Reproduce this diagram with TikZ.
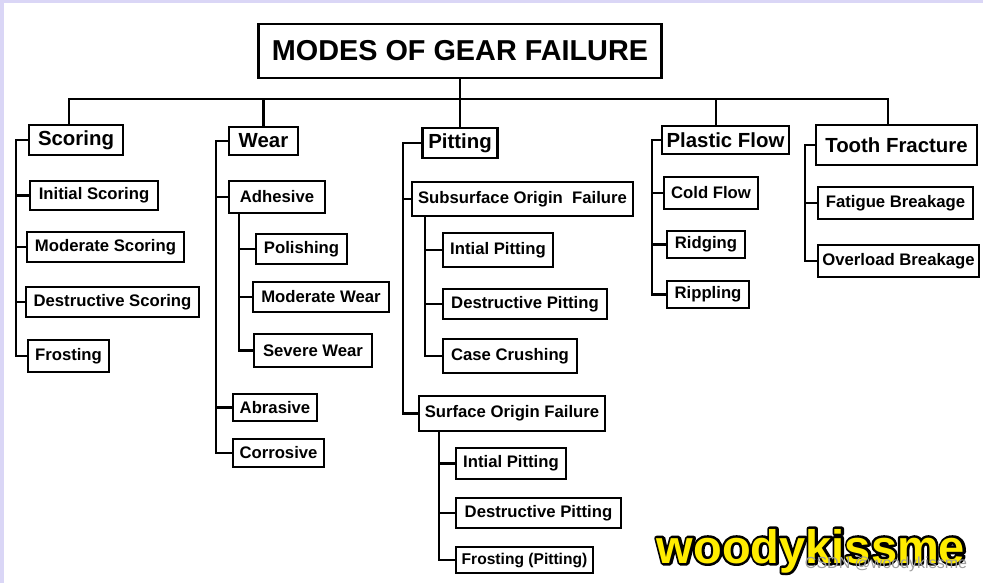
\documentclass[tikz,border=0pt]{standalone}
\usepackage{fontspec}
\setmainfont{Liberation Sans}
\definecolor{frame}{RGB}{218,214,246}
\definecolor{wmyellow}{RGB}{255,236,0}
\newcommand{\outlinedtext}[1]{\special{pdf:code q 1 Tr 5 w 1 j 0 G}#1\special{pdf:code Q}}
\begin{document}
\begin{tikzpicture}[x=1pt,y=-1pt,
  box/.style={draw, line width=2.1pt, inner sep=0pt, font=\fontsize{16.7}{18}\selectfont\bfseries},
  head/.style={box, font=\fontsize{20.4}{22}\selectfont\bfseries},
  conn/.style={line width=2.1pt},
  wmk/.style={inner sep=0pt, anchor=base, font=\fontsize{47}{50}\selectfont\bfseries}]
\useasboundingbox[fill=white] (0,0) rectangle (983,583);
\fill[frame] (0,0) rectangle (983,3);
\fill[frame] (0,0) rectangle (4,583);

% title
\node[box, font=\fontsize{28.8}{30}\selectfont\bfseries, minimum width=403pt, minimum height=54pt] (title) at (460,51) {MODES OF GEAR FAILURE};

% level 1
\node[head, minimum width=94pt, minimum height=30pt] (scor) at (76,140) {Scoring};
\node[head, minimum width=69pt, minimum height=28pt] (wear) at (263.5,141) {Wear};
\node[head, minimum width=75pt, minimum height=30pt] (pit) at (460,143) {Pitting};
\node[head, minimum width=127pt, minimum height=28pt] (pf) at (725.5,140) {Plastic Flow};
\node[head, minimum width=161pt, minimum height=40pt] (tf) at (896.5,145) {Tooth Fracture};

% bus
\coordinate (bus) at (0,99);
\draw[conn] (title.south) -- (pit.north);
\draw[conn] ([xshift=-7pt]scor.north) -- ([xshift=-7pt]scor.north |- bus) -- ([xshift=-8.5pt]tf.north |- bus) -- ([xshift=-8.5pt]tf.north);
\draw[conn] (wear.north) -- (wear.north |- bus);
\draw[conn] ([xshift=-9.5pt]pf.north) -- ([xshift=-9.5pt]pf.north |- bus);

% Scoring children
\node[box, minimum width=128pt, minimum height=29pt] (iscor) at (94,195.5) {Initial Scoring};
\node[box, minimum width=157pt, minimum height=30pt] (mscor) at (105.5,247) {Moderate Scoring};
\node[box, minimum width=173pt, minimum height=30pt] (dscor) at (112.5,302) {Destructive Scoring};
\node[box, minimum width=81pt, minimum height=32pt] (frost) at (68.5,356) {Frosting};
\coordinate (tS) at (16,0);
\draw[conn] (scor.west) -- (scor.west -| tS) -- (tS |- frost.west) -- (frost.west);
\foreach \n in {iscor,mscor,dscor} \draw[conn] (tS |- \n.west) -- (\n.west);

% Wear children
\node[box, minimum width=96pt, minimum height=32pt] (adh) at (277,197) {Adhesive};
\node[box, minimum width=91pt, minimum height=30pt] (pol) at (301.5,249) {Polishing};
\node[box, minimum width=136pt, minimum height=30pt] (modw) at (321,297) {Moderate Wear};
\node[box, minimum width=118pt, minimum height=33pt] (sevw) at (313,350.5) {Severe Wear};
\node[box, minimum width=84pt, minimum height=27pt] (abr) at (275,407.5) {Abrasive};
\node[box, minimum width=91pt, minimum height=28pt] (cor) at (278.5,453) {Corrosive};
\coordinate (tW) at (216,0);
\draw[conn] (wear.west) -- (wear.west -| tW) -- (tW |- cor.west) -- (cor.west);
\foreach \n in {adh,abr} \draw[conn] (tW |- \n.west) -- (\n.west);
\coordinate (tA) at (239,0);
\draw[conn] (adh.south -| tA) -- (tA |- sevw.west) -- (sevw.west);
\foreach \n in {pol,modw} \draw[conn] (tA |- \n.west) -- (\n.west);

% Pitting children
\node[box, minimum width=221pt, minimum height=34pt] (sub) at (522.5,199) {Subsurface Origin\ \ Failure};
\node[box, minimum width=110pt, minimum height=34pt] (ip1) at (498,250) {Intial Pitting};
\node[box, minimum width=164pt, minimum height=30pt] (dp1) at (525,304) {Destructive Pitting};
\node[box, minimum width=134pt, minimum height=34pt] (cc) at (510,356) {Case Crushing};
\node[box, minimum width=186pt, minimum height=35pt] (sof) at (512,413.5) {Surface Origin Failure};
\node[box, minimum width=110pt, minimum height=31pt] (ip2) at (511,463.5) {Intial Pitting};
\node[box, minimum width=165pt, minimum height=30pt] (dp2) at (538.5,513) {Destructive Pitting};
\node[box, font=\fontsize{15.6}{17}\selectfont\bfseries, minimum width=137pt, minimum height=26pt] (fp) at (524.5,560) {Frosting (Pitting)};
\coordinate (tP) at (403,0);
\draw[conn] (pit.west) -- (pit.west -| tP) -- (tP |- sof.west) -- (sof.west);
\draw[conn] (tP |- sub.west) -- (sub.west);
\coordinate (tP1) at (425,0);
\draw[conn] (sub.south -| tP1) -- (tP1 |- cc.west) -- (cc.west);
\foreach \n in {ip1,dp1} \draw[conn] (tP1 |- \n.west) -- (\n.west);
\coordinate (tP2) at (439,0);
\draw[conn] (sof.south -| tP2) -- (tP2 |- fp.west) -- (fp.west);
\foreach \n in {ip2,dp2} \draw[conn] (tP2 |- \n.west) -- (\n.west);

% Plastic Flow children
\node[box, minimum width=94pt, minimum height=32pt] (cf) at (711,193) {Cold Flow};
\node[box, minimum width=78pt, minimum height=27pt] (rid) at (706,244.5) {Ridging};
\node[box, minimum width=82pt, minimum height=27pt] (rip) at (708,294.5) {Rippling};
\coordinate (tF) at (652,0);
\draw[conn] (pf.west) -- (pf.west -| tF) -- (tF |- rip.west) -- (rip.west);
\foreach \n in {cf,rid} \draw[conn] (tF |- \n.west) -- (\n.west);

% Tooth Fracture children
\node[box, minimum width=155pt, minimum height=32pt] (fat) at (895.5,203) {Fatigue Breakage};
\node[box, minimum width=161pt, minimum height=32pt] (ovl) at (898.5,261) {Overload Breakage};
\coordinate (tT) at (805,0);
\draw[conn] (tf.west) -- (tf.west -| tT) -- (tT |- ovl.west) -- (ovl.west);
\draw[conn] (tT |- fat.west) -- (fat.west);

% watermark
\node[wmk] (wm) at (811,563) {\rlap{\color{black}\outlinedtext{woodykissme}}\color{wmyellow}woodykissme};
\node[inner sep=0pt, anchor=base, font=\fontsize{16}{17}\selectfont, text=black!38] (csdn) at (886,568) {CSDN @woodykissme};
\end{tikzpicture}
\end{document}
